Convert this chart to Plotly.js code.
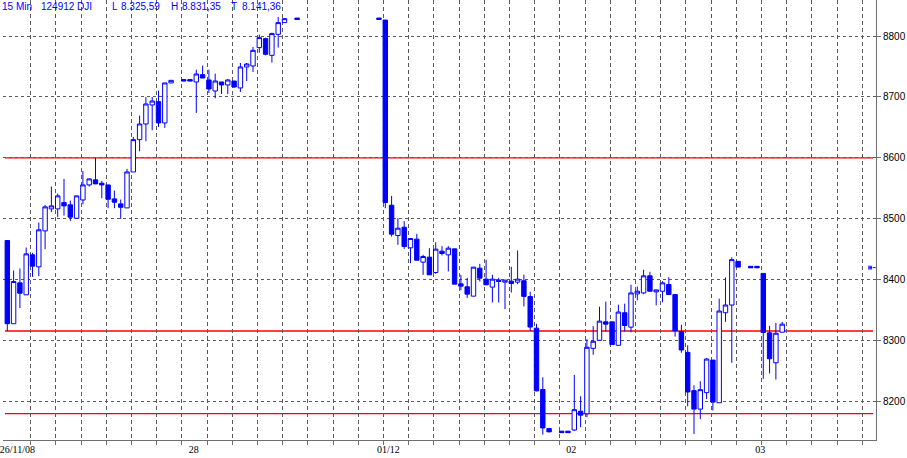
<!DOCTYPE html>
<html><head><meta charset="utf-8">
<script src="https://cdn.plot.ly/plotly-3.0.1.min.js"></script>
<style>html,body{margin:0;padding:0;background:#fff;}#chart{width:907px;height:458px;}</style>
</head><body><div id="chart"></div>
<script>
// 15-minute bars, x = bar slot (index in the session grid)
const slot  = [0,1,2,3,4,5,6,7,8,9,10,11,12,13,14,15,16,17,18,19,20,21,22,23,24,25,26,
  28,29,30,31,32,33,34,35,36,37,38,39,40,41,42,43,44,46,
  59,60,61,62,63,64,65,66,67,68,69,70,71,72,73,74,75,76,77,78,79,80,81,82,83,84,85,86,
  88,89,90,91,92,93,94,95,96,97,98,99,100,101,102,103,104,105,106,107,108,109,110,111,112,113,114,115,116,
  118,119,120,121,122,123];
const open  = [8464.5,8328,8395,8375.4,8441,8421.3,8480.3,8516.4,8516.4,8526.8,8523,8501,8531,8555.7,8564,8558.5,8555.7,8532.8,8524.6,8518,8577,8630,8655.7,8686.9,8692.3,8657.4,8723,
  8728.5,8728.5,8724.6,8736.6,8727.9,8709.8,8724.6,8719.7,8726.2,8714.8,8749.2,8750.8,8781,8795.7,8768.3,8802.8,8822,8829.5,
  8829.5,8826.2,8522.4,8472.7,8486.3,8452.5,8466.7,8429,8437.2,8412,8447,8441,8450.8,8393.4,8388.5,8373.2,8419.1,8401.1,8388,8399.5,8396.2,8397.8,8396.2,8398.6,8372.5,8320.7,8220,8156,
  8151.7,8151.7,8153.6,8184.3,8180.2,8287.6,8300.8,8331.1,8331.1,8292.6,8346,8322.3,8376.9,8378.5,8406.6,8380.2,8381.3,8392.3,8375.8,8315.2,8281,8218.2,8187.9,8214.9,8268.3,8198.3,8346,8358.7,8430.3,
  8422.1,8422.1,8410.5,8313,8263.9,8314];
const high  = [8465,8415.3,8418.6,8453,8444.3,8494,8523,8553,8541.5,8565.6,8530,8538,8578.7,8566,8600,8562.3,8555.7,8546.4,8531.7,8582,8634.4,8669.4,8700,8700,8710.4,8723,8727.3,
  8728.5,8728.5,8744.8,8751.4,8744.8,8738.3,8724.6,8729.5,8726.2,8755.7,8755.7,8782,8802.3,8797.4,8805.6,8831.4,8829,8829.5,
  8829.5,8826.2,8537.7,8501.1,8496.2,8468,8475.4,8441,8451.9,8461.7,8455.2,8455.2,8451,8408.2,8403.3,8421,8426.2,8432.8,8408.2,8403.3,8400,8421.3,8448.1,8408.5,8380.5,8327.8,8240,8156,
  8151.7,8151.7,8244,8209,8302.5,8324,8355.9,8364.2,8331.1,8359.2,8360.9,8391.7,8389,8416.5,8413.2,8383.5,8397.8,8404.4,8376,8326.2,8292.6,8227,8233.6,8271.6,8268.3,8369.1,8403.9,8436.9,8430.3,
  8422.1,8422.1,8410.5,8324.5,8329.5,8331.1];
const low   = [8316,8328,8353.6,8375,8404.9,8406,8450.3,8511,8502.7,8505.5,8496.7,8501,8524,8553,8557,8533.9,8517.5,8517.5,8500,8518,8577,8611,8627.3,8645.4,8650.8,8649.2,8723,
  8726.1,8726.1,8673.8,8731,8706.6,8697.8,8704.9,8704.9,8714.8,8708.2,8726.2,8741,8772.8,8768.3,8756.4,8781,8822,8827.1,
  8827.1,8517.5,8471,8457.4,8450.8,8427.3,8432,8408.2,8408,8409.8,8439.9,8413.7,8392.9,8383,8370,8373,8397.3,8391.8,8362.8,8362.8,8351.9,8379.2,8392.9,8356.4,8316,8217,8146,8150,
  8149.3,8149.3,8152,8158.1,8174.6,8277.1,8300.8,8315.2,8293.7,8292.6,8315.2,8314,8366.4,8376.3,8381,8358.1,8363.1,8375.8,8306.9,8280.4,8192.3,8147.1,8171.3,8204.4,8185.7,8198.3,8331.1,8263.9,8420.9,
  8419.7,8419.7,8237.5,8246.3,8236.4,8314];
const close = [8328,8397.3,8378,8442.6,8422.4,8482,8519.7,8521.3,8537.7,8521.3,8502.7,8537.7,8555.7,8565.6,8557.4,8555.7,8532.2,8527.3,8519,8577,8630,8655.7,8688.5,8693.4,8657.4,8723,8727.3,
  8726.1,8726.1,8737.7,8731.1,8713.1,8726.2,8719.7,8727.9,8716.4,8749.2,8754.1,8776.5,8797.4,8770,8804,8822,8828.5,8827.1,
  8827.1,8526.8,8474.9,8484.7,8454.6,8467.8,8432.2,8438.3,8408.2,8450.3,8443.2,8451.9,8392.9,8389.6,8376.5,8420.8,8402.7,8391.8,8401.1,8397.3,8399.5,8394,8401.1,8372.8,8322.5,8217.8,8157,8150.5,
  8149.3,8149.3,8187,8178,8289.3,8299.2,8332.2,8327.3,8293.7,8347.1,8325.1,8378.5,8381.3,8406.6,8381.3,8383.5,8395,8375.8,8316.3,8284.9,8216,8187.9,8219.8,8270,8199.4,8348.8,8358.7,8433.1,8420.9,
  8419.7,8419.7,8313.5,8270.5,8312.4,8327.3];

const dayLabels = ['26/11/08','28','01/12','02','03'];
const dayLabelSlots = [1.6, 29.6, 60.5, 89.5, 119.5];
const levelValues = [8600, 8316, 8180.5];
const lastMarkValue = 8420;
const headerTexts = ['15 Min','124912','DJI','L','8.325,59','H','8.831,35','T','8.141,36'];

// layout helpers (pixel placement, not data)
const headerPx = [1, 40, 76, 111, 120, 170, 181.5, 230, 241];
const plotL = 3, plotR = 876, plotW = plotR - plotL;
const xRange = [-0.683, 137.89];
const gridSlots = [];
for (let g = 3.71; g < xRange[1]; g += 4) gridSlots.push(g);

const blue = '#0000ff';
const traces = [{
  type: 'candlestick',
  x: slot, open: open, high: high, low: low, close: close,
  increasing: {line: {color: blue, width: 1}, fillcolor: '#ffffff'},
  decreasing: {line: {color: blue, width: 1}, fillcolor: blue},
  whiskerwidth: 0,
  hoverinfo: 'skip',
  showlegend: false
}, {
  type: 'scatter', mode: 'lines+markers',
  x: [136.95, 137.85], y: [lastMarkValue, lastMarkValue],
  line: {color: blue, width: 1},
  marker: {symbol: 'square', size: [5, 0], color: blue},
  hoverinfo: 'skip', showlegend: false
}];

const annotations = headerTexts.map((t, i) => ({
  text: t, xref: 'paper', yref: 'paper',
  x: (headerPx[i] - plotL - 1.5) / plotW, y: 1, xanchor: 'left', yanchor: 'middle', yshift: -6,
  showarrow: false, font: {family: 'Liberation Sans, Arial, sans-serif', size: 10, color: blue}
}));

const shapes = levelValues.map(v => ({
  type: 'line', xref: 'paper', yref: 'y',
  x0: (5 - plotL) / plotW, x1: (873 - plotL) / plotW, y0: v, y1: v,
  line: {color: '#ff0000', width: 1.3}, layer: 'between'
}));

const gridCol = '#5a5a5a';
const layout = {
  width: 907, height: 458,
  margin: {l: plotL, r: 907 - plotR, t: 0, b: 18, pad: 0},
  paper_bgcolor: '#ffffff', plot_bgcolor: '#ffffff',
  showlegend: false, hovermode: false,
  boxgap: 0.3, boxgroupgap: 0,
  xaxis: {
    type: 'linear', range: xRange, fixedrange: true,
    rangeslider: {visible: false},
    tickmode: 'array', tickvals: dayLabelSlots, ticktext: dayLabels,
    ticklabeloverflow: 'allow',
    ticks: '', showgrid: false, zeroline: false,
    showline: true, linecolor: '#6e6e6e', linewidth: 1,
    tickfont: {family: 'Liberation Serif, Times New Roman, serif', size: 10, color: '#000'},
    minor: {tickmode: 'array', tickvals: gridSlots, showgrid: true, gridcolor: gridCol, griddash: '4px,3px', gridwidth: 1,
            ticks: 'outside', ticklen: 4, tickcolor: '#6e6e6e'}
  },
  yaxis: {
    side: 'right', range: [8137.2, 8859.1], fixedrange: true,
    tick0: 8200, dtick: 100, tickformat: 'd',
    ticks: 'outside', ticklen: 4, tickcolor: '#6e6e6e',
    showgrid: true, gridcolor: gridCol, griddash: '3px,3px', gridwidth: 1,
    zeroline: false, showline: true, linecolor: '#6e6e6e', linewidth: 1,
    tickfont: {family: 'Liberation Sans, Arial, sans-serif', size: 10, color: '#000'}
  },
  shapes: shapes,
  annotations: annotations
};
Plotly.newPlot('chart', traces, layout, {staticPlot: true, displayModeBar: false});
</script></body></html>
